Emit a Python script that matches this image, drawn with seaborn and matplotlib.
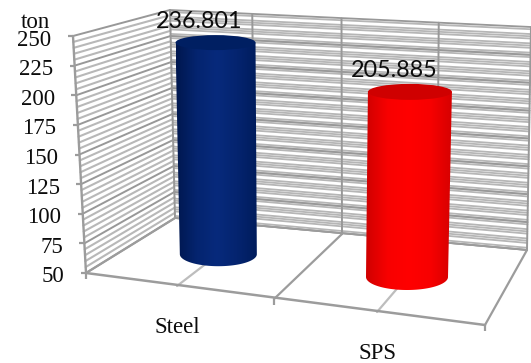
import numpy as np
import pandas as pd
import matplotlib
matplotlib.use("Agg")
import matplotlib.pyplot as plt
from matplotlib.patches import Ellipse, Polygon
import seaborn as sns

# Chart values
categories = ["Steel", "SPS"]
values = [236.801, 205.885]
value_labels = ["236.801", "205.885"]
tick_values = [50, 75, 100, 125, 150, 175, 200, 225, 250]
axis_unit = "ton"

# Box layout on the canvas
U_STOPS = [0, 0.5, 1, 1.5, 2]
FRONT_X = [86, 177, 274, 377, 485]
BACK_X = [175, 255, 342, 437, 527]
FRONT_Y = (273, 325)
BACK_Y = (218, 250)
RISE = {"bl": (-5, -208), "br": (4, -223), "fl": (-13, -237), "fr": (12, -262)}
V_MIN, V_MAX = 50, 250
GRID_DARK = "#989898"
GRID_LIGHT = "#b8b8b8"
EDGE = "#9c9c9c"
TEXT = "#0c0c0c"


def project(u, d, v):
    """Map category position u, depth d (0 back, 1 front) and value v to the canvas."""
    t = u / 2
    fx, fy = np.interp(u, U_STOPS, FRONT_X), FRONT_Y[0] + t * (FRONT_Y[1] - FRONT_Y[0])
    bx, by = np.interp(u, U_STOPS, BACK_X), BACK_Y[0] + t * (BACK_Y[1] - BACK_Y[0])
    rise_back = np.add(np.multiply(RISE["bl"], 1 - t), np.multiply(RISE["br"], t))
    rise_front = np.add(np.multiply(RISE["fl"], 1 - t), np.multiply(RISE["fr"], t))
    rise = rise_back * (1 - d) + rise_front * d
    f = (v - V_MIN) / (V_MAX - V_MIN)
    return bx + (fx - bx) * d + rise[0] * f, by + (fy - by) * d + rise[1] * f


def segments(pairs):
    rows = []
    for i, (a, b) in enumerate(pairs):
        for p in (a, b):
            x, y = project(*p)
            rows.append({"x": x, "y": y, "line": i})
    return pd.DataFrame(rows)


def draw_lines(ax, pairs, color, lw, zorder=1):
    sns.lineplot(data=segments(pairs), x="x", y="y", units="line", estimator=None,
                 sort=False, color=color, linewidth=lw, zorder=zorder, ax=ax, legend=False)


sns.set_theme(style="white")
plt.rcParams["font.family"] = ["Liberation Serif", "DejaVu Serif"]

fig = plt.figure(figsize=(5.31, 3.63), dpi=100, facecolor="white")
ax = fig.add_axes([0, 0, 1, 1])

# Side wall: evenly spaced light lines every 5
side_minor = [v for v in range(V_MIN, V_MAX + 1, 5) if v % 25]
draw_lines(ax, [((0, 1, v), (0, 0, v)) for v in side_minor], GRID_LIGHT, 1.5)

# Back wall: close-set light lines that merge into bands with narrow gaps
band_step = 25 / 3
back_minor = []
for center in np.arange(V_MIN, V_MAX + 0.1, band_step):
    for offset in (-2.0, 0.0, 2.0):
        if V_MIN <= center + offset <= V_MAX:
            back_minor.append(center + offset)
draw_lines(ax, [((0, 0, v), (2, 0, v)) for v in back_minor], "#b6b6b6", 1.3)

# Heavier lines at each labelled tick
draw_lines(ax, [((0, 1, v), (0, 0, v)) for v in tick_values], GRID_DARK, 1.4)
draw_lines(ax, [((0, 0, v), (2, 0, v)) for v in tick_values], GRID_DARK, 1.3)

# Wall uprights and floor lines
draw_lines(ax, [((u, 0, V_MIN), (u, 0, V_MAX)) for u in U_STOPS], GRID_DARK, 1.4, 2)
draw_lines(ax, [((0, 1, V_MIN), (0, 1, V_MAX))], EDGE, 1.7, 2)
draw_lines(ax, [((u, 1, V_MIN), (u, 0, V_MIN)) for u in (0, 1, 2)], EDGE, 1.6, 2)
draw_lines(ax, [((u, 1, V_MIN), (u, 0, V_MIN)) for u in (0.5, 1.5)], "#bdbdbd", 1.6, 2)
draw_lines(ax, [((0, 0, V_MIN), (2, 0, V_MIN))], EDGE, 1.2, 2)
draw_lines(ax, [((0, 1, V_MIN), (2, 1, V_MIN))], EDGE, 1.8, 2)

# Cylinders: a horizontal shading clipped to each body outline
shades = [sns.blend_palette(["#00174f", "#04246f", "#072a7c", "#04246f", "#001c5c"], 128),
          sns.blend_palette(["#d00000", "#f80000", "#ff0000", "#f80000", "#d60000"], 128)]
cap_colors = ["#001f62", "#cf0000"]
bar_depth = [0.47, 0.5]
top_shift = [1.5, 0]
base_radius = [(38.5, 12), (41, 13)]
top_radius = [(40, 7.5), (42, 8)]
for i, value in enumerate(values):
    u = i + 0.5
    bx, by = project(u, bar_depth[i], V_MIN)
    tx, ty = project(u, bar_depth[i], value)
    tx += top_shift[i]
    theta = np.linspace(np.pi, 0, 90)
    lower = np.c_[bx + base_radius[i][0] * np.cos(theta), by + base_radius[i][1] * np.sin(theta)]
    upper = np.array([[tx + top_radius[i][0], ty], [tx - top_radius[i][0], ty]])
    body = Polygon(np.r_[lower, upper], closed=True, fc="none", ec="none", transform=ax.transData)
    ax.add_patch(body)
    left = min(bx - base_radius[i][0], tx - top_radius[i][0])
    right = max(bx + base_radius[i][0], tx + top_radius[i][0])
    image = ax.imshow(np.array(shades[i])[None, :, :], extent=[left, right, by + 20, ty],
                      aspect="auto", interpolation="bilinear", zorder=5)
    image.set_clip_path(body)
    ax.add_patch(Ellipse((tx, ty), 2 * top_radius[i][0], 2 * top_radius[i][1],
                         fc=cap_colors[i], ec="none", zorder=6))
    ax.text(tx - 16, ty - 21, value_labels[i], family="Lato", fontsize=16.8, color=TEXT,
            ha="center", va="center", zorder=7)

# Value axis ticks and labels along the front upright
for v in tick_values:
    x, y = project(0, 1, v)
    ax.plot([x - 5, x], [y, y], color=EDGE, lw=1.6, zorder=2, solid_capstyle="butt")
    ax.text(x - 21.5, y + 4, str(v), fontsize=16.5, color=TEXT, ha="right", va="center")
x, y = project(0, 1, V_MAX)
ax.text(x - 38, y - 14, axis_unit, fontsize=16.5, color=TEXT, ha="center", va="center")

# Category ticks and labels along the front floor edge
for u in (0, 1, 2):
    x, y = project(u, 1, V_MIN)
    ax.plot([x, x], [y, y + 6], color=EDGE, lw=1.6, zorder=2, solid_capstyle="butt")
for i, name in enumerate(categories):
    x, y = project(i + 0.5, 1, V_MIN)
    ax.text(x, y + 41.5, name, fontsize=16.5, color=TEXT, ha="center", va="center")

ax.set_xlim(0, 531)
ax.set_ylim(363, 0)
ax.axis("off")
fig.savefig("out.png", dpi=100)
